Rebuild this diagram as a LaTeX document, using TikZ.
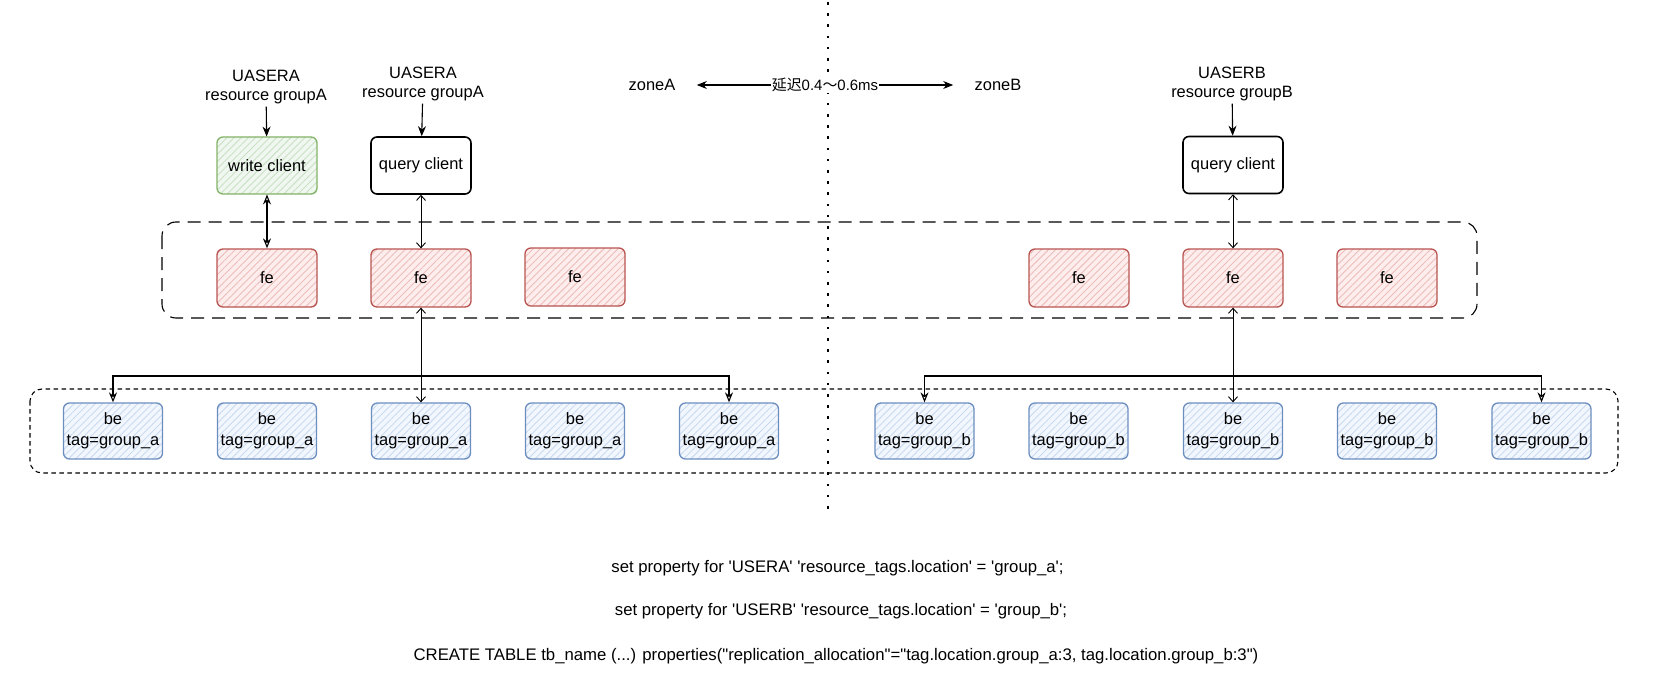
\documentclass[tikz,border=0pt]{standalone}
\usepackage{fontspec}
\setmainfont{Liberation Sans}
\newfontfamily\cjk{Noto Sans CJK SC}
\usetikzlibrary{arrows.meta,patterns.meta,calc}
\definecolor{gS}{HTML}{82B366}\definecolor{gF}{HTML}{D5E8D4}
\definecolor{rS}{HTML}{B85450}\definecolor{rF}{HTML}{F8CECC}
\definecolor{bS}{HTML}{6C8EBF}\definecolor{bF}{HTML}{DAE8FC}
\newcommand\sq{\textquotesingle}
\newcommand\dq{\textquotedbl}
\begin{document}
\begin{tikzpicture}[x=1bp,y=-1bp,
  font=\fontsize{16.5}{20}\selectfont,
  box/.style={rounded corners=6bp, line width=1.3bp, minimum width=100bp, minimum height=57bp, inner sep=0pt, align=center},
  hatch/.style 2 args={box, draw=#1, preaction={fill=#2!35}, pattern={Lines[angle=45,distance=5bp,line width=0.9bp]}, pattern color=#2!80!#1!90},
  wbox/.style={hatch={gS}{gF}},
  fbox/.style={hatch={rS}{rF}, minimum height=58bp},
  bbox/.style={hatch={bS}{bF}, minimum width=99bp, minimum height=56bp, font=\fontsize{16.5}{21}\selectfont},
  qbox/.style={box, draw=black, fill=white, line width=1.6bp},
  lbl/.style={align=center, inner sep=2bp},
  farrow/.style={line width=1.1bp, -{Stealth[length=10bp,width=8bp]}},
  oarrow/.style={line width=1.1bp, -{Stealth[open,length=10bp,width=8bp]}},
  varrow/.style={line width=0.9bp, {Straight Barb[length=5bp,width=9bp]}-{Straight Barb[length=5bp,width=9bp]}},
  code/.style={inner sep=0pt, font=\fontsize{16.8}{20}\selectfont}
]
\useasboundingbox (0,0) rectangle (1658,690);
% zone separator
\draw[line width=2.6bp, dash pattern=on 2.6bp off 8.6bp] (828,2) -- (828,515);
% containers
\draw[line width=1.1bp, dash pattern=on 13bp off 8bp, rounded corners=14bp] (162,222) rectangle (1477,318);
\draw[line width=1.1bp, dash pattern=on 4.5bp off 3.5bp, rounded corners=12bp] (30,389) rectangle (1618,473);
% zones
\node (zoneA) at (652,85) {zoneA};
\node (zoneB) at (998,85) {zoneB};
\draw[line width=1.1bp, {Stealth[length=10bp,width=8bp]}-{Stealth[length=10bp,width=8bp]}, shorten <=18bp, shorten >=18bp]
  (zoneA.east) -- node[fill=white, inner sep=1bp, font=\fontsize{15}{18}\selectfont] (lat) {{\cjk 延迟}0.4{\cjk ～}0.6ms} (zoneB.west);
% labels
\node[lbl] (labA1) at (266,87) {UASERA\\resource groupA};
\node[lbl] (labA2) at (423,84) {UASERA\\resource groupA};
\node[lbl] (labB) at (1232,84) {UASERB\\resource groupB};
% clients
\node[wbox] (wc) at (267,165.5) {write client};
\node[qbox] (qcA) at (421,165.5) {query client};
\node[qbox] (qcB) at (1233,165) {query client};
% fe
\node[fbox] (feA1) at (267,278) {fe};
\node[fbox] (feA2) at (421,278) {fe};
\node[fbox] (feA3) at (575,277) {fe};
\node[fbox] (feB1) at (1079,278) {fe};
\node[fbox] (feB2) at (1233,278) {fe};
\node[fbox] (feB3) at (1387,278) {fe};
% be
\foreach \i/\x in {1/113,2/267,3/421,4/575,5/729}
  \node[bbox] (beA\i) at (\x,431) {be\\tag=group\_a};
\foreach \i/\x in {1/924.5,2/1078.5,3/1233,4/1387,5/1541.5}
  \node[bbox] (beB\i) at (\x,431) {be\\tag=group\_b};
% label arrows
\draw[farrow] (labA1) -- (wc);
\draw[farrow] (labA2) -- (qcA);
\draw[farrow] (labB) -- (qcB);
% client <-> fe
\draw[line width=1.1bp, {Stealth[open,length=10bp,width=8bp]}-{Stealth[open,length=10bp,width=8bp]}] (wc) -- (feA1);
\draw[varrow] (qcA) -- (feA2);
\draw[varrow] (qcB) -- (feB2);
% fe -> be
\coordinate (busA) at (421,376);
\coordinate (busB) at (1233,376);
\draw[varrow] (feA2) -- (beA3);
\draw[oarrow] (busA) -| (beA1.north);
\draw[oarrow] (busA) -| (beA5.north);
\draw[varrow] (feB2) -- (beB3);
\draw[oarrow] (busB) -| (beB1.north);
\draw[oarrow] (busB) -| (beB5.north);
% code
\node[code] (c1) at (837.5,568) {set property for \sq USERA\sq{} \sq resource\_tags.location\sq{} = \sq group\_a\sq;};
\node[code] (c2) at (841,611) {set property for \sq USERB\sq{} \sq resource\_tags.location\sq{} = \sq group\_b\sq;};
\node[code] (c3) at (836,656) {CREATE TABLE tb\_name (...) properties(\dq replication\_allocation\dq=\dq tag.location.group\_a:3, tag.location.group\_b:3\dq)};
\end{tikzpicture}
\end{document}
